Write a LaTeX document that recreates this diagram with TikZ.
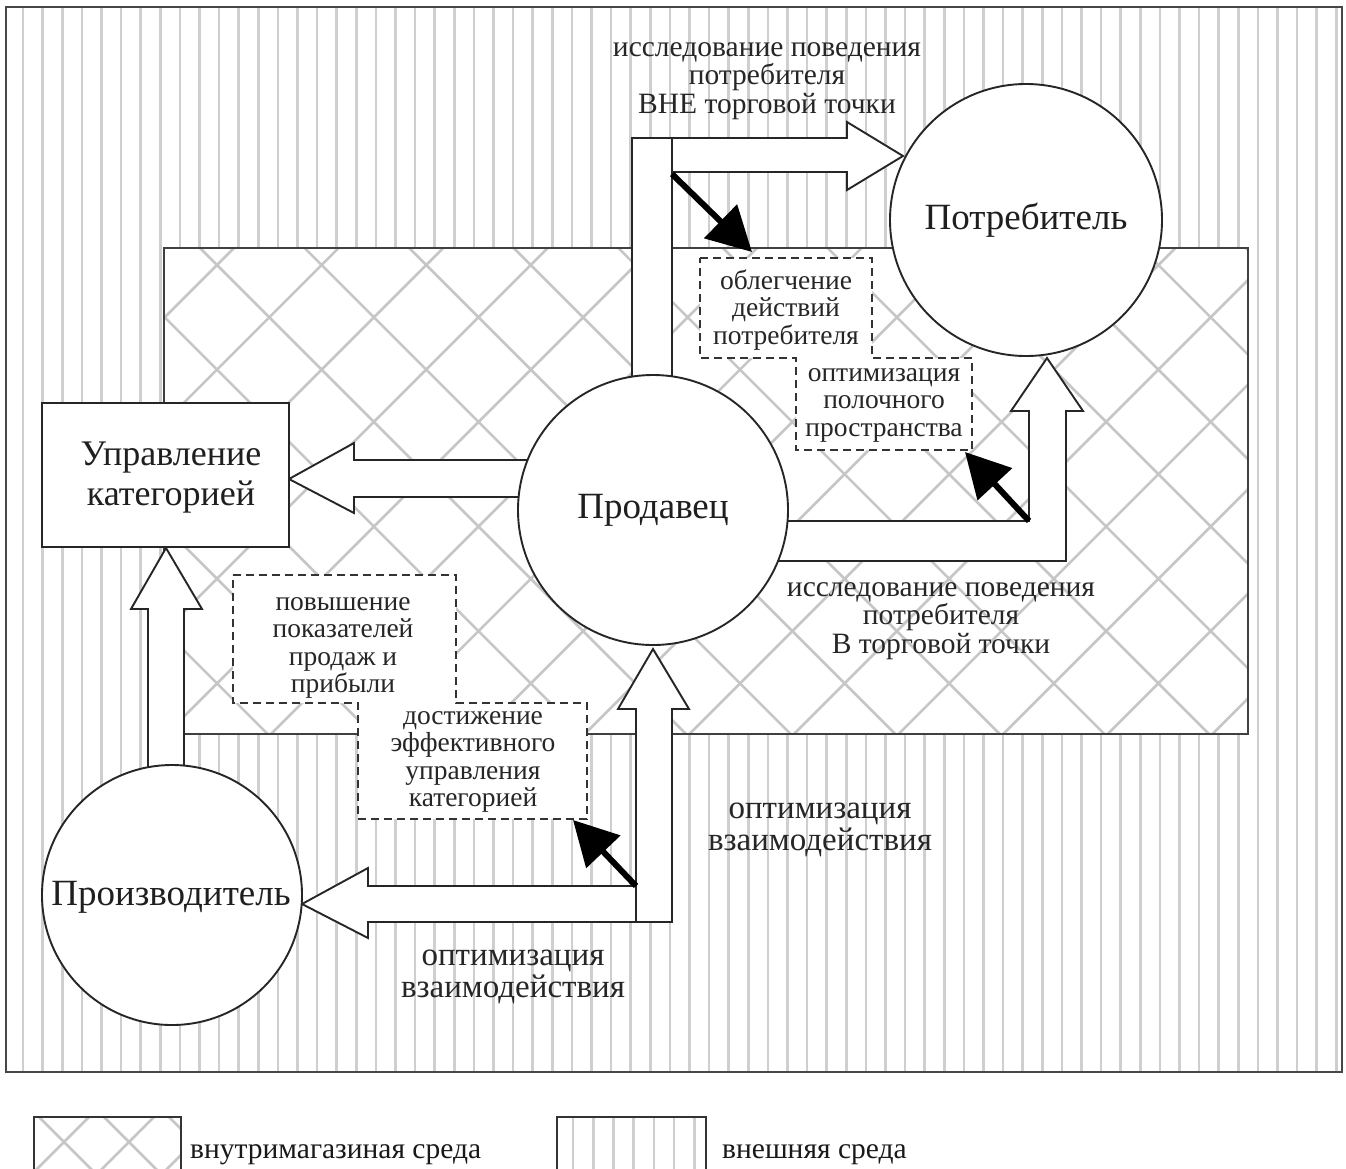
\documentclass[tikz,border=0pt]{standalone}
\usepackage{fontspec}
\setmainfont{Liberation Serif}
\usetikzlibrary{arrows.meta}
\begin{document}
\begin{tikzpicture}[x=1pt,y=-1pt,
  hatchV/.style={draw=gray!38, line width=2.6pt},
  hatchX/.style={draw=gray!45, line width=2.6pt},
  frame/.style={draw=black!72, line width=2.8pt},
  blk/.style={draw=black!85, fill=white, line width=1.9pt, line join=miter},
  dbox/.style={draw=black!80, fill=white, line width=2.2pt, dash pattern=on 8pt off 5pt},
  actor/.style={circle, draw=black!85, fill=white, line width=1.9pt, inner sep=0pt, text=black!88, font=\fontsize{37}{40}\selectfont},
  big/.style={align=center, text=black!88, font=\fontsize{36}{40}\selectfont},
  small/.style={align=center, text=black!85, inner sep=0pt, font=\fontsize{27.5}{27.5}\selectfont},
  label/.style={align=center, text=black!85, inner sep=0pt, font=\fontsize{29.5}{28.5}\selectfont},
  labelL/.style={align=center, text=black!85, inner sep=0pt, font=\fontsize{33}{32}\selectfont},
  legend/.style={anchor=base west, inner sep=0pt, text=black!90, font=\fontsize{29.5}{30}\selectfont},
  pointer/.style={draw=black, line width=6pt, -{Triangle[length=44pt,width=46pt]}}]
\clip (0,0) rectangle (1346,1168);
\fill[white] (0,0) rectangle (1346,1168);
% outer environment hatch
\begin{scope}
  \clip (6,7) rectangle (1342,1072);
  \foreach \k in {0,...,68} { \draw[hatchV] ({23+19.6*\k},0) -- ({23+19.6*\k},1100); }
\end{scope}
% in-store environment crosshatch
\fill[white] (164,248) rectangle (1248,734);
\begin{scope}
  \clip (164,248) rectangle (1248,734);
  \foreach \k in {-1,...,16} { \draw[hatchX] ({482+104.6*\k},0) -- ({482+104.6*\k-800},800); }
  \foreach \k in {-6,...,11} { \draw[hatchX] ({-48+104.6*\k},0) -- ({-48+104.6*\k+800},800); }
\end{scope}
\draw[draw=black!75, line width=2pt] (164,248) rectangle (1248,734);
\draw[frame] (6,7) rectangle (1342,1072);

% block arrows
\draw[blk] (540,460) -- (354,460) -- (354,443) -- (289,479) -- (354,513) -- (354,497) -- (540,497) -- cycle;
\draw[blk] (148,790) -- (148,609) -- (131,609) -- (166,548) -- (202,609) -- (184,609) -- (184,790) -- cycle;
\draw[blk] (672,886) -- (368,886) -- (368,868) -- (302,904) -- (368,938) -- (368,922) -- (672,922) -- cycle;
\draw[blk] (636,922) -- (636,709) -- (618,709) -- (653,649) -- (689,709) -- (672,709) -- (672,922) -- cycle;
\draw[blk] (632,138) -- (847,138) -- (847,122) -- (903,156) -- (847,190) -- (847,172) -- (632,172) -- cycle;
\draw[blk] (632,138) rectangle (672,420);
\draw[blk] (760,521) -- (1029,521) -- (1029,411) -- (1011,411) -- (1047,358) -- (1083,411) -- (1066,411) -- (1066,561) -- (760,561) -- cycle;

% actors
\node[actor, minimum size=272pt] (cons) at (1026,220) {Потребитель};
\node[actor, minimum size=270pt] (sell) at (653,510) {Продавец};
\node[actor, minimum size=260pt] (prod) at (172,895) {};
\node[big, font=\fontsize{37}{40}\selectfont, inner sep=0pt] (prodlabel) at (171,897) {Производитель};
\node[draw=black!85, fill=white, line width=2.2pt, minimum width=247pt, minimum height=144pt, inner sep=0pt] (cat) at (165.5,475) {};
\node[big] (catlabel) at (171,478) {Управление\\категорией};

% dashed goal boxes
\draw[dbox] (700,258) -- (872,258) -- (872,358) -- (972,358) -- (972,450) -- (796,450) -- (796,358) -- (700,358) -- cycle;
\draw[dbox] (233,575) -- (456,575) -- (456,703) -- (587,703) -- (587,819) -- (358,819) -- (358,703) -- (233,703) -- cycle;
\node[small] (ease) at (786,310) {облегчение\\действий\\потребителя};
\node[small] (shelf) at (884,405) {оптимизация\\полочного\\пространства};
\node[small] (sales) at (343,648) {повышение\\показателей\\продаж и\\прибыли};
\node[small] (effect) at (473,762) {достижение\\эффективного\\управления\\категорией};

% pointer arrows
\coordinate (c1) at (672,174);
\coordinate (t1) at (752,252);
\coordinate (c2) at (1029,521);
\coordinate (t2) at (965,452);
\coordinate (c3) at (636,886);
\coordinate (t3) at (573,820);
\draw[pointer] (c1) -- (t1);
\draw[pointer] (c2) -- (t2);
\draw[pointer] (c3) -- (t3);

% labels
\node[label] (outside) at (767,81) {исследование поведения\\потребителя\\ВНЕ торговой точки};
\node[label] (inside) at (941,621) {исследование поведения\\потребителя\\В торговой точки};
\node[labelL] (opt1) at (820,830) {оптимизация\\взаимодействия};
\node[labelL] (opt2) at (513,977) {оптимизация\\взаимодействия};

% legend
\begin{scope}
  \clip (33,1116) rectangle (180,1200);
  \fill[white] (33,1116) rectangle (180,1200);
  \foreach \k in {-2,...,6} { \draw[hatchX] ({1206+65*\k-1100},1100) -- ({1206+65*\k-1300},1300); }
  \foreach \k in {-2,...,6} { \draw[hatchX] ({-1078+65*\k+1100},1100) -- ({-1078+65*\k+1300},1300); }
\end{scope}
\node[draw=black!80, line width=2.4pt, minimum width=147pt, minimum height=84pt, inner sep=0pt, anchor=north west] (legin) at (33,1116) {};
\begin{scope}
  \clip (556,1116) rectangle (705,1200);
  \foreach \k in {0,...,6} { \draw[hatchV] ({573+20.2*\k},1100) -- ({573+20.2*\k},1200); }
\end{scope}
\node[draw=black!80, line width=2.4pt, minimum width=149pt, minimum height=84pt, inner sep=0pt, anchor=north west] (legout) at (556,1116) {};
\node[legend] (legintext) at (190,1158) {внутримагазиная среда};
\node[legend] (legouttext) at (722,1158) {внешняя среда};
\end{tikzpicture}
\end{document}
